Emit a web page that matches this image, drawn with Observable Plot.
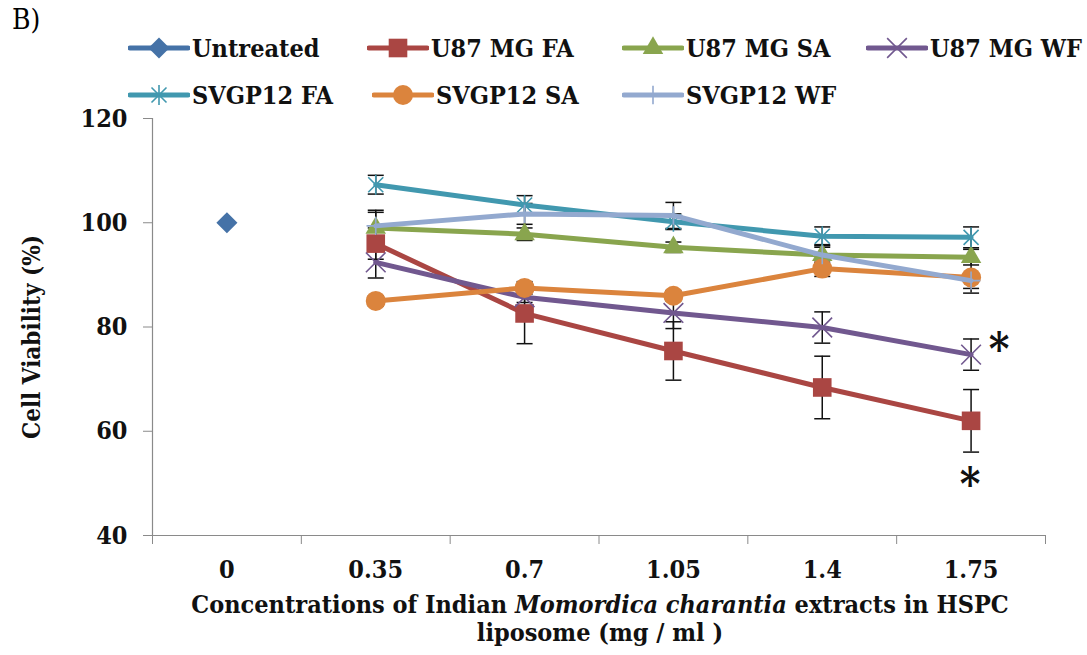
<!DOCTYPE html>
<html><head><meta charset="utf-8">
<script src="https://cdn.jsdelivr.net/npm/d3@7"></script>
<script src="https://cdn.jsdelivr.net/npm/@observablehq/plot@0.6"></script>
<style>
body{margin:0;background:#fff;width:1087px;height:655px;overflow:hidden;position:relative;font-family:"DejaVu Serif Condensed","DejaVu Serif",serif;font-stretch:condensed;color:#000;}
#tag{position:absolute;left:12px;top:3px;font-size:28px;font-weight:normal;}
.leg{position:absolute;font-weight:bold;font-size:25px;display:flex;align-items:center;white-space:nowrap;color:#111;}
.leg svg{margin-right:2px;}
#chart{position:absolute;left:0;top:100px;}
#xtitle{position:absolute;left:100px;width:1000px;top:591px;text-align:center;font-weight:bold;font-size:25px;line-height:28px;color:#111;}
</style></head>
<body>
<div id="tag">B)</div>
<div id="legend"></div>
<div id="chart"></div>
<div id="xtitle">Concentrations of Indian <i>Momordica charantia</i> extracts in HSPC<br>liposome (mg / ml )</div>
<script>
// ---- data ----
const xValues = [0, 0.35, 0.7, 1.05, 1.4, 1.75];
const xLabels = ["0", "0.35", "0.7", "1.05", "1.4", "1.75"];
const yTicks = [40, 60, 80, 100, 120];
const yDomain = [40, 120];
const seriesNames = ["Untreated", "U87 MG FA", "U87 MG SA", "U87 MG WF", "SVGP12 FA", "SVGP12 SA", "SVGP12 WF"];

const untreatedValues = [100, null, null, null, null, null];
const u87FaValues = [null, 96.0, 82.6, 75.4, 68.4, 62.0];
const u87SaValues = [null, 99.0, 97.8, 95.3, 93.8, 93.4];
const u87WfValues = [null, 92.4, 85.7, 82.7, 79.9, 74.7];
const svgFaValues = [null, 107.3, 103.4, 100.2, 97.4, 97.2];
const svgSaValues = [null, 85.0, 87.5, 86.0, 91.2, 89.5];
const svgWfValues = [null, 99.4, 101.7, 101.4, 93.8, 88.9];

const untreatedErrors = [null, null, null, null, null, null];
const u87FaErrors = [null, 3.0, 5.8, 5.6, 6.0, 6.0];
const u87SaErrors = [null, 3.0, 1.2, 1.0, 1.5, 1.5];
const u87WfErrors = [null, 3.0, 1.0, 3.0, 3.0, 3.0];
const svgFaErrors = [null, 1.8, 1.8, 1.5, 1.8, 2.0];
const svgSaErrors = [null, 1.0, 1.2, 1.0, 1.5, 3.0];
const svgWfErrors = [null, 3.0, 2.0, 2.5, 2.0, 1.5];

const significant = ["U87 MG WF", "U87 MG FA"];

// ---- styles ----
const seriesColors = ["#4572A7", "#AA4643", "#89A54E", "#71588F", "#4198AF", "#DB843D", "#93A9CF"];
const symAsterisk = {draw(ctx, size) {
  const r = Math.sqrt(size / Math.PI), d = r * 0.75;
  ctx.moveTo(0, -r); ctx.lineTo(0, r);
  ctx.moveTo(-d, -d); ctx.lineTo(d, d);
  ctx.moveTo(-d, d); ctx.lineTo(d, -d);
}};
const symCap = {draw(ctx, size) {
  const w = Math.sqrt(size / Math.PI);
  ctx.moveTo(-w, 0); ctx.lineTo(w, 0);
}};
const seriesStyle = [
  {symbol: d3.symbolDiamond2, r: 9.5, filled: true},
  {symbol: d3.symbolSquare, r: 10.5, filled: true},
  {symbol: d3.symbolTriangle, r: 7.6, filled: true},
  {symbol: d3.symbolTimes, r: 9, filled: false},
  {symbol: symAsterisk, r: 10, filled: false},
  {symbol: d3.symbolCircle, r: 10, filled: true},
  {symbol: d3.symbolPlus, r: 6, filled: false}
];
const legendPos = [[128, 48], [367, 48], [622, 48], [866, 48], [128, 95], [372, 95], [622, 95]];

const allValues = [untreatedValues, u87FaValues, u87SaValues, u87WfValues, svgFaValues, svgSaValues, svgWfValues];
const allErrors = [untreatedErrors, u87FaErrors, u87SaErrors, u87WfErrors, svgFaErrors, svgSaErrors, svgWfErrors];

const table = seriesNames.map((name, si) =>
  xValues.map((x, i) => ({series: name, x, y: allValues[si][i], err: allErrors[si][i]}))
    .filter(d => d.y != null));
const errRows = table.flat().filter(d => d.err != null);

const step = xValues[1] - xValues[0];
const xMin = xValues[0] - step / 2;
const xMax = xValues[xValues.length - 1] + step / 2;
const xBounds = d3.range(xValues.length + 1).map(i => xMin + i * step);

const marks = [
  Plot.ruleX([xMin], {stroke: "#8a8a8a", strokeWidth: 1.2}),
  Plot.ruleY([yDomain[0]], {stroke: "#8a8a8a", strokeWidth: 1.2}),
  Plot.axisY({ticks: yTicks, tickSize: 9, tickPadding: 16, stroke: "#8a8a8a", fill: "#111", label: null, fontSize: 25}),
  Plot.axisX({ticks: xValues, tickSize: 0, tickPadding: 25, tickFormat: d => xLabels[xValues.indexOf(d)], fill: "#111", label: null, fontSize: 25}),
  Plot.axisX({ticks: xBounds, tickSize: 9, stroke: "#8a8a8a", tickFormat: () => "", label: null}),
  Plot.text(["Cell Viability (%)"], {frameAnchor: "left", textAnchor: "middle", rotate: -90, dx: -120, dy: 10, fontSize: 24, fontWeight: "bold", fill: "#111"}),
  Plot.ruleX(errRows, {x: "x", y1: d => d.y - d.err, y2: d => d.y + d.err, stroke: "#111", strokeWidth: 1.5}),
  Plot.dot(errRows, {x: "x", y: d => d.y - d.err, symbol: symCap, r: 8, stroke: "#111", strokeWidth: 1.5}),
  Plot.dot(errRows, {x: "x", y: d => d.y + d.err, symbol: symCap, r: 8, stroke: "#111", strokeWidth: 1.5})
];
table.forEach((rows, si) => {
  const c = seriesColors[si], st = seriesStyle[si];
  if (rows.length > 1) marks.push(Plot.line(rows, {x: "x", y: "y", stroke: c, strokeWidth: 5}));
  marks.push(Plot.dot(rows, st.filled
    ? {x: "x", y: "y", symbol: st.symbol, r: st.r, fill: c, stroke: "none"}
    : {x: "x", y: "y", symbol: st.symbol, r: st.r, fill: "none", stroke: c, strokeWidth: 1.6}));
});
// significance asterisks
const wfLast = table[seriesNames.indexOf(significant[0])].at(-1);
const faLast = table[seriesNames.indexOf(significant[1])].at(-1);
marks.push(Plot.text([wfLast], {x: "x", y: "y", text: () => "*", dx: 28, dy: -4, fontSize: 44, fontWeight: "bold", fill: "#111"}));
marks.push(Plot.text([faLast], {x: "x", y: d => d.y - d.err, text: () => "*", dx: -1, dy: 34, fontSize: 44, fontWeight: "bold", fill: "#111"}));

const chart = Plot.plot({
  width: 1087, height: 490,
  marginLeft: 152, marginRight: 42, marginTop: 18, marginBottom: 55,
  x: {domain: [xMin, xMax]},
  y: {domain: yDomain},
  style: {fontFamily: '"DejaVu Serif Condensed","DejaVu Serif",serif', fontWeight: "bold", fontSize: "25px", background: "transparent", overflow: "visible"},
  marks
});
document.getElementById("chart").appendChild(chart);

// legend
const legend = d3.select("#legend");
seriesNames.forEach((name, si) => {
  const [lx, ly] = legendPos[si];
  const item = legend.append("div").attr("class", "leg").style("left", lx + "px").style("top", (ly - 14) + "px").style("height", "28px");
  const svg = item.append("svg").attr("width", 62).attr("height", 28);
  svg.append("line").attr("x1", 2).attr("x2", 60).attr("y1", 14).attr("y2", 14)
    .attr("stroke", seriesColors[si]).attr("stroke-width", 5).attr("stroke-linecap", "round");
  const st = seriesStyle[si];
  const p = svg.append("path").attr("transform", "translate(31,14)")
    .attr("d", d3.symbol(st.symbol, st.r * st.r * Math.PI)());
  if (st.filled) p.attr("fill", seriesColors[si]);
  else p.attr("fill", "none").attr("stroke", seriesColors[si]).attr("stroke-width", 1.6);
  item.append("span").text(name);
});
</script>
</body></html>
